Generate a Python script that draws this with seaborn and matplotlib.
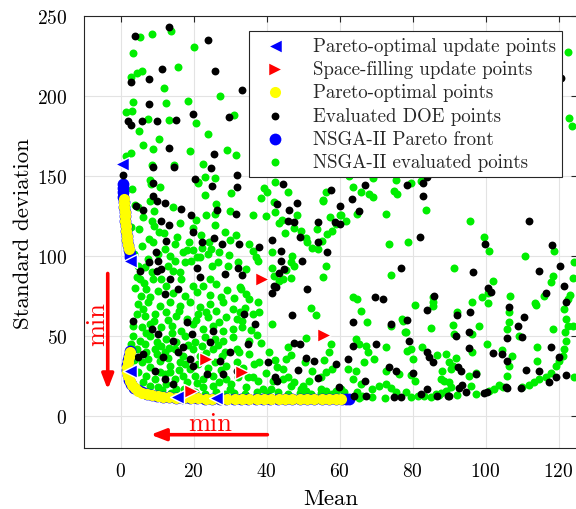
import matplotlib
matplotlib.use("Agg")
import matplotlib.pyplot as plt
import seaborn as sns
import pandas as pd

# ---------------- data ----------------
nsga_eval = [
    (13.7,241),(8.7,239),(5.3,236.9),(20.1,230.6),(3.3,226.8),(15.7,218.1),(6.0,215.6),(4.4,214.6),(2.9,211.9),
    (11.9,205.4),(27.3,200.2),(3.4,196.7),(12.5,195.8),(18.4,197),(1.6,190),(3.1,190.8),(31.2,188.5),(7.4,185.8),
    (13.3,185.4),(20.7,183.3),(5.1,178.1),(23.9,176.2),(10.5,173.3),(6.3,169.8),(8.8,167.3),(19.1,165.8),(29.2,166.2),
    (31.6,163.3),(3.0,164.8),(1.5,162.7),(8.6,156.9),(14.7,156.9),(22.6,157.9),(23.2,149.8),(25.9,148.8),(8.2,147.7),
    (21.2,146.3),
    (122.5,227.9),(122.9,186.4),(123.8,181.6),(63.8,143.1),(65.9,140.4),(68.1,138.9),(69.3,136.9),(74.8,140.8),
    (75.8,138.7),(75.4,147.9),(79.6,146),(82.3,147.3),(83.8,128.8),(60.4,125.8),(64.9,126.4),(72.7,126.4),(62.7,150.4),
    (69.3,149.1),
    (42.4,146.7),(39.4,142.5),(40,140.4),(30.2,139.6),(46,140),(38.5,136.3),(42.1,134.1),(55.6,135.2),(56.4,140.4),
    (26.1,132.7),(29.9,128.5),(10.9,143.5),(8,134.4),(14.4,130.6),(3.1,142.1),(9.2,128.5),(4.9,130.6),(23.4,125.8),
    (25.9,126.4),
    (8.3,145),(4.1,132.3),(6.1,124.4),(8.5,122.3),(9.2,119.1),(10.6,115),(7.9,110.8),(8.8,108.8),(14.9,107.7),
    (17.2,102.5),(18.3,104),(19.9,104.2),(20.8,122.9),(19.9,117.5),(22.4,105),(24.3,108.8),(24.9,104.6),(24,101.4),
    (30,110.4),(31.6,113.3),(28.6,115),(23.1,138.3),(21.1,145.8),(10.3,101.4),(13.5,100.4),(14.9,97.3),(13.1,93.8),
    (14.4,91.1),(16.3,90),(16.7,85.8),(17.6,96.3),(19.2,97.3),(21,99.4),(21.9,99.4),(19.9,81.6),(22.5,81.6),(24.5,85.8),
    (25.2,94.1),(26.8,96.3),(29.5,93.8),(29.2,79),(32.7,80.6),(4.8,94.2),(4.4,86.9),(5.3,85.8),(6.7,93.2),(7.4,98.3),
    (8.5,90),(9,85.8),(11.2,85.8),(12.6,81.6),(7.1,79.6),(5.7,75.4),(8,74.4),
    (42.4,127.9),(36.2,125.8),(39.8,125),(48.3,125.8),(44.2,122.9),(43.5,120.8),(45.1,114.4),(47.6,117.5),(49.4,116),
    (50.8,111.2),(51.2,108.8),(52.4,105),(54,104.6),(55.1,109.8),(53.7,117.1),(56.7,114),(57.9,116),(57.4,124.4),
    (59,120.2),(60.2,125.8),(61.9,121.9),(55.4,134.8),(73.6,107.7),(78.7,108.8),(74.1,88.6),(63.8,74.4),(56.4,94.2),
    (55.4,87.3),(47,100),(46.7,96.3),(47.6,93.8),(45.3,91.7),(46.7,86.3),(44.4,85.8),(41.4,92.5),(42.1,87.9),
    (41.4,102.9),(43.3,84.8),(35.1,107.7),(36.4,103.6),(37.1,99.4),(37.8,97.3),(34.4,92),(33,79.6),(34.4,76.5),
    (35.1,73.4),(37.8,71.7),
    (95.8,122.3),(99.6,111.9),(101,103.1),(110.9,100),(91.4,92.9),(102.1,84.8),(99,74.8),(100.8,77.1),(106.7,75),
    (118.4,87.9),(117.9,84.1),(116.1,75),(118.8,103.3),(123.1,75.8),(124.3,96.2),(124,86.2),(85.5,74.4),(100.8,70.8),
    (113.6,70.8),
    (4.8,70.2),(7.6,71.2),(10.8,69.1),(13.5,71.6),(16.3,69.1),(19.0,71.2),(21.8,68.1),(24.5,70.2),(28.1,71.2),(30.9,67.1),
    (32.7,65.0),(4.4,63.9),(6.7,62.9),(9.4,63.9),(12.6,65.0),(15.3,62.9),(18.1,60.8),(21.3,63.9),(24.0,61.9),(26.3,66.0),
    (29.0,61.9),(31.8,60.8),(3.5,56.6),(5.8,55.6),(8.0,57.7),(11.2,55.6),(14.0,56.6),(16.7,53.5),(19.9,57.7),(22.7,54.6),
    (25.4,56.6),(28.1,53.5),(30.9,54.6),(33.2,55.6),(3.5,50.4),(5.3,47.3),(8.0,50.4),(9.9,46.2),(12.6,48.3),(15.3,46.2),
    (17.6,50.4),(20.4,46.2),(23.1,49.4),(25.9,48.3),(28.1,47.3),(30.9,49.4),(4.4,42.1),(7.1,40.0),(9.4,42.1),(12.2,40.0),
    (14.9,42.1),(17.2,37.9),(19.9,42.1),(25.4,42.1),(28.6,40.0),(31.8,42.1),(5.8,33.7),(8.0,30.6),(10.8,34.8),(13.5,31.6),
    (16.3,33.7),(19.0,29.6),(21.3,32.7),(25.9,33.7),(29.0,31.6),(31.8,33.7),(7.1,25.4),(9.4,23.3),(12.2,26.4),(14.9,23.3),
    (17.2,25.4),(20.4,25.4),(22.7,23.3),(25.4,25.4),(29.0,23.3),(32.2,24.4),(8.0,19.1),(10.3,18.1),(12.6,20.2),(15.3,17.1),
    (22.7,18.1),(25.4,18.7),(30.0,17.1),
    (6.2,66.8),(9.1,59.5),(13.0,60.2),(16.1,65.8),(20.6,59.9),(23.4,65.4),(27.1,58.8),(2.9,45.3),(6.9,51.8),(11.0,44.1),
    (14.1,51.9),(18.4,44.5),(22.3,43.9),(26.8,44.3),(3.6,35.2),(7.4,36.1),(12.9,36.4),(16.0,28.9),(21.9,37.5),(24.1,30.4),
    (27.4,29.1),(4.9,28.0),(10.7,27.6),(13.6,27.9),(18.2,21.4),(21.0,21.1),(26.9,21.6),(6.1,21.3),(11.3,16.2),(17.4,17.0),
    (3.9,80.3),(6.4,83.1),(10.2,78.4),(14.3,76.8),(17.8,75.2),(20.9,77.6),(24.6,76.1),(27.5,74.3),(31.1,73.8),(26.3,82.9),
    (3.8,101.2),(5.9,106.4),(12.1,104.6),(15.6,112.3),(18.9,109.1),(22.1,113.6),(27.0,102.8),(29.8,100.9),(12.0,114.8),
    (2.9,118.6),(5.1,116.9),(16.2,120.9),(25.8,119.4),(32.3,96.4),(34.0,67.4),(35.8,54.0),(35.1,46.9),(38.6,45.7),
    (39.8,27.3),(30.3,20.4),(33.6,30.5),(23.5,39.3),(27.7,37.6),(17.7,32.6),(9.9,38.9),(6.8,45.3),(13.4,43.0),
    (13.8,14.6),(17.1,14.1),(20.3,14.9),(23.2,13.9),(26.1,15.2),(28.7,14.0),(31.2,14.7),(34.1,13.8),(37.3,14.9),
    (40.2,14.3),(43.1,15.3),(45.8,14.0),(49.2,14.7),(52.3,14.1),(55.0,14.8),(57.9,14.2),(61.2,15.4),
    (52.2,67.5),(53.5,63.3),(41.5,57.7),(37.5,50.8),(33.4,59.8),(36.2,63.9),(38,65.4),(50.8,48.7),(46,43.6),(46.7,38.3),
    (45.3,35.8),(40.7,40.2),(42.4,35.4),(44.4,29.6),(43,30.6),(52.4,28.5),(50.6,33.7),(55.8,35.4),(57.2,40.2),(57.6,45.4),
    (56.3,27.5),(57.9,29.6),(54.9,24.4),(51.7,22.2),(49.9,19.1),(47.6,21.7),(44.4,23.3),(45.8,24.4),(46.7,18.7),(49.4,17.1),
    (50.8,16),(54.9,17.1),(56.3,16),(59,16),(60.4,17.1),(62.2,29.6),(64.5,28.5),(63.6,23.3),(65.9,20.2),(64.9,15),
    (66.3,13),(69,17.1),(70.9,18.7),(72.7,20.2),(74.1,17.6),(75.4,15),(64.5,48.3),(65.4,45.2),(67.2,44.1),(66.8,34.1),
    (67.7,40),(69.5,35.8),(72.7,43.1),(74.1,56.6),(72.7,28.5),(76.4,26.4),(78.6,41),(66,66),(67.5,59.2),(77.5,59.8),
    (78.3,52.5),(64.7,73.3),(32.5,40),(35.3,38.9),(36.6,32.7),(38,33.7),(34.8,24.4),(36.2,24.4),(37.6,22.2),(39,17.1),
    (41.3,17.1),(41.7,22.2),(34.3,18.1),
    (80.7,69.6),(85.5,71.6),(85.5,68.7),(77.1,60.8),(78,52.5),(79.6,42.1),(80.2,35.8),(82.7,43.5),(85,54.9),(86.6,38.3),
    (79.6,25.8),(80.7,22.2),(78.2,15.4),(79.6,11.8),(81.4,12.5),(83.2,12.9),(85,11.8),(86.4,14),(87.8,14.4),(89.1,16.1),
    (90.5,18.1),(92.3,13.3),(96,18.7),(97.4,13.9),(101,16.1),(102.4,17.1),(103.8,19.6),(104.7,18.1),(110.1,18.1),(112,19.6),
    (113.3,21.7),(114.7,23.3),(116.5,24.4),(117.9,27.1),(119.3,31.6),(120.2,34.8),(121.1,37.9),(121.6,42.1),(122,47.3),
    (121.8,52.5),(122.5,56.6),(122,60.8),(121.6,67.1),(122.5,73.3),(114.2,43.1),(114.2,34.8),(118.4,54.6),(124.3,24.4),
    (123.9,56.6),(89.1,38.9),(90.1,33.7),(91,31.6),(91.9,36.2),(90.5,29.6),(87.8,23.3),(88.7,22.2),(89.9,21.2),(88.2,28.1),
    (95.5,25),(97.4,27.1),(91,57.1),(91.4,51.4),(92.3,64.9),(96.4,51.4),(96.4,40),(98.3,56.6),(100.4,45.2),(104.6,41.6),
    (107.2,37.9),(106.5,31.6),(106,25.4),(106.5,64.9),(106.5,58.7),(106,54.6),(109.2,50.4),(113.7,69.6),(96.2,71.2),
    (65.4,11.5),(68.8,11.8),(72.5,11.4),(87.3,13.3),
]

doe_eval = [
    (13.3,243.5),(3.9,237.7),(24.1,235.4),(11.3,216.9),(25.9,216),(7.9,210.6),(2.8,209),(33.4,204),(7.8,195.4),
    (19.9,189),(29.7,186.9),(2.1,184.6),(3.0,182),(6.0,184.8),(10.1,184.4),(15.1,185),(13.3,167.5),(25.7,164),(9.0,156),
    (14.6,155.6),(24.9,155),(32,150.6),(0.7,150.8),(20.3,148.3),
    (120.8,211.4),(57.6,141.4),(67,144.6),(78.5,144.8),(83,145.6),(84.1,149.8),(83,137.5),(63.4,135.8),(60.2,131.3),
    (65.4,128.1),
    (44.6,145.2),(31.9,143.1),(43,132.7),(48.3,133.1),(46.2,129),(26.4,129.1),(9,145.6),(9,137.9),(10.1,134.8),
    (12.2,133.1),(16.7,129.6),(4.2,131.3),(6.3,128.8),(19.4,125.8),
    (11,122.3),(13.3,119.8),(12.6,109.8),(19.9,115),(22.2,108.8),(25.7,111.7),(27.7,107.5),(31.6,126.4),(25.2,143.8),
    (9.7,102.5),(10.3,97.3),(11.2,92),(13.5,85.8),(15.8,79.6),(21,92.5),(21.9,86.9),(28.6,88.9),(32.2,92.5),(5.3,91.1),
    (7.9,96.3),(9.9,91.1),(12.2,76.4),
    (46,122.3),(47.6,121.7),(49.1,111.9),(54.2,108.8),(56.5,102.9),(54.2,121.3),(58.8,121.7),(60.2,120.2),(76.8,92.5),
    (69.8,74.4),(51.2,79.6),(49.7,97.3),(43.9,97.3),(44.8,92),(43.3,89.6),(41.5,110.4),(44.1,103.5),(42.1,81.6),
    (42.7,80.6),(41.5,77.1),(38,105.6),(32.5,107.7),(33.2,88.3),
    (82,112.3),(111.8,121.9),(99.9,107.7),(118.2,107.3),(96.6,90.4),(120.5,94.1),(114.7,91),(121.6,81.2),(85.9,75.4),
    (100.8,80.2),(101.5,77.9),(116.5,77.1),(122,71.2),
    (3.5,59.8),(8.5,54.6),(10.3,51.4),(14.4,47.3),(18.1,58.7),(19.5,51.4),(17.2,43.1),(24.5,46.2),(30,40),(27.2,34.8),
    (4.8,36.8),(11.7,36.8),(19,35.8),(9.4,28.5),(12.2,23.3),(14.4,20.2),(19.9,31.6),(23.6,26.4),(31.8,28.5),(28.1,26.4),
    (6.2,38.9),(15.8,40),(25.4,53.5),
    (47.1,63.3),(36.9,57.7),(33.9,63.9),(47.6,45.6),(49.2,45.3),(40.3,34.1),(48.5,29),(50.8,36.2),(53.1,34.8),(59,32.7),
    (54,23.8),(42.4,24.4),(43,22.2),(59.9,18.1),(67,22.2),(62.2,35.8),(63.6,44.1),(70,45.2),(73.6,30.6),(75.4,28.5),
    (76.8,11.8),(63.6,58.7),(74.1,57.7),(71.9,73.3),(34.8,45.2),
    (84.1,66.6),(78.6,60.4),(79.1,47.3),(84.1,40),(84.6,36.8),(85.7,34.1),(80.2,27.1),(84.1,17.1),(82.3,14),(86.8,12.5),
    (90.1,12.5),(92.8,17.6),(94.6,15.4),(93.5,19.8),(99.6,14.6),(100.5,14.9),(105.6,18.1),(109.7,17.5),(111.1,29.1),
    (114.7,28.5),(117.5,21.2),(119.3,24.4),(122,25.8),(117.9,43.1),(120.2,36.8),(92.6,30.6),(93.3,28.1),(97.3,26.5),
    (92.3,63.3),(91.9,50.4),(95.5,52.9),(95.7,64.9),(95.5,42.5),(102.1,39.3),(104.6,38.9),(106,34.8),(106.5,68.1),
    (109,56.2),(110.6,61.9),(105.9,48.7),(110.1,49.4),
    (74.8,11.9),(89.6,12.5),(67.2,12.9),(64,12.9),(106,17.5),
]

nsga_front = [
    (0.7,145.5),(0.7,143),(0.8,140),(0.8,137),(0.9,134),(1.0,131),(1.1,128),(1.2,125),(1.3,122),(1.4,119),(1.5,116),
    (1.7,113),(1.9,110),(2.1,107),(2.3,104),(2.5,101.5),(2.7,99.5),
    (2.6,41),(2.3,38),(2.0,35),(1.9,32),(1.9,29),(2.0,26),(2.3,23),(2.9,20),(3.7,18),(4.7,16.2),(5.9,14.9),(7.2,13.9),
    (8.6,13.1),(10.1,12.5),(11.6,12.1),(13.2,11.8),(15.1,11.5),(17.0,11.4),(19.1,11.3),(21.0,11.2),(23.2,11.1),
    (25.1,11.1),(27.3,11.0),(29.0,11.0),(31.2,11.0),(33.1,11.0),(35.0,11.0),(37.2,11.0),(39.1,11.0),(41.0,11.0),
    (43.2,11.0),(45.1,11.0),(47.0,11.0),(49.2,11.0),(51.1,11.0),(53.0,11.0),(55.2,11.0),(57.1,11.0),(59.0,11.0),
    (60.6,11.0),(61.7,11.0),(62.7,11.0),
]

pareto_opt = [
    (0.9,136),(0.9,133.5),(1.0,131),(1.1,128),(1.2,125),(1.3,122),(1.4,119),(1.5,116),(1.7,113),(1.9,110),(2.1,107),
    (2.3,104.5),
    (2.5,40),(2.2,37),(2.0,34),(1.9,31),(1.9,28),(2.1,25),(2.5,22),(3.1,19.5),(3.9,17.6),(4.9,16),(6.0,14.8),(7.3,13.8),
    (8.7,13.1),(10.2,12.5),(11.7,12.1),(13.3,11.8),(15.2,11.5),(17.1,11.4),(19.2,11.3),(21.1,11.2),(23.3,11.1),
    (25.2,11.1),(27.4,11.0),(29.1,11.0),(31.3,11.0),(33.2,11.0),(35.1,11.0),(37.3,11.0),(39.2,11.0),(41.1,11.0),
    (43.3,11.0),(45.2,11.0),(47.1,11.0),(49.3,11.0),(51.2,11.0),(53.1,11.0),(55.3,11.0),(57.2,11.0),(59.1,11.0),
    (60.5,11.0),
]

space_fill_upd = [(38.8,86.0),(55.7,51.0),(23.5,36.0),(33.3,28.0),(19.4,16.0)]
pareto_upd = [(0.5,158.0),(2.7,97.0),(2.7,28.5),(15.6,12.0),(26.3,11.3)]

labels = ["Pareto-optimal update points", "Space-filling update points", "Pareto-optimal points",
          "Evaluated DOE points", "NSGA-II Pareto front", "NSGA-II evaluated points"]


def frame(pts):
    return pd.DataFrame(pts, columns=["Mean", "Std"])


# ---------------- figure ----------------
sns.set_style("white")
plt.rcParams["font.family"] = ["cmr10", "DejaVu Serif"]
plt.rcParams["axes.formatter.use_mathtext"] = True
plt.rcParams["mathtext.fontset"] = "cm"

fig = plt.figure(figsize=(5.76, 5.10), dpi=100)
ax = fig.add_axes([84 / 576, 60.7 / 510, 492.75 / 576, 432 / 510])

sns.scatterplot(data=frame(nsga_eval), x="Mean", y="Std", ax=ax, color="#00ee00", s=33,
                linewidth=0, label=labels[5], zorder=2)
sns.scatterplot(data=frame(nsga_front), x="Mean", y="Std", ax=ax, color="#0000ff", s=72,
                linewidth=0, label=labels[4], zorder=3)
sns.scatterplot(data=frame(doe_eval), x="Mean", y="Std", ax=ax, color="black", s=32,
                linewidth=0, label=labels[3], zorder=4)
sns.scatterplot(data=frame(pareto_opt), x="Mean", y="Std", ax=ax, color="#ffff00", s=64,
                linewidth=0, label=labels[2], zorder=5)
sns.scatterplot(data=frame(space_fill_upd), x="Mean", y="Std", ax=ax, color="#ff0000", s=100, marker=">",
                edgecolor="white", linewidth=1.0, label=labels[1], zorder=6)
sns.scatterplot(data=frame(pareto_upd), x="Mean", y="Std", ax=ax, color="#0000ff", s=100, marker="<",
                edgecolor="white", linewidth=1.0, label=labels[0], zorder=7)

ax.set_xlim(-10, 125)
ax.set_ylim(-20, 250)
ax.set_xticks([0, 20, 40, 60, 80, 100, 120])
ax.set_yticks([0, 50, 100, 150, 200, 250])

dark = "#262626"
ax.grid(True, color="#e3e3e3", linewidth=0.8)
ax.set_axisbelow(True)
for sp in ax.spines.values():
    sp.set_color(dark)
    sp.set_linewidth(0.8)
ax.tick_params(direction="in", length=4.5, width=0.8, colors=dark, labelsize=14,
               top=True, right=True)
ax.tick_params(axis="y", pad=12)
ax.tick_params(axis="x", pad=10)
for lab in ax.get_xticklabels() + ax.get_yticklabels():
    lab.set_color("black")

ax.set_xlabel("Mean", fontsize=16.5, color="black", labelpad=6)
ax.set_ylabel("Standard deviation", fontsize=16.5, color="black", labelpad=3)

# legend in the original order
handles, labs = ax.get_legend_handles_labels()
order = [labs.index(l) for l in labels]
leg = ax.legend([handles[i] for i in order], [labs[i] for i in order],
                loc="upper right", bbox_to_anchor=(0.970, 0.966), fontsize=13.6,
                frameon=True, fancybox=False, framealpha=1, edgecolor=dark,
                borderpad=0.3, labelspacing=0.28, handletextpad=1.0, handlelength=2.1,
                borderaxespad=0)
leg.get_frame().set_linewidth(0.8)

# red "min" arrows
ax.annotate("", xy=(-3.5, 15), xytext=(-3.5, 91),
            arrowprops=dict(arrowstyle="-|>,head_length=0.9,head_width=0.35", color="#ff0000", lw=2.6),
            annotation_clip=False, zorder=8)
ax.text(-6.3, 58, "min", color="#ff0000", fontsize=19, rotation=90, ha="center", va="center", zorder=8)
ax.annotate("", xy=(7.5, -11.5), xytext=(41, -11.5),
            arrowprops=dict(arrowstyle="-|>,head_length=0.9,head_width=0.35", color="#ff0000", lw=2.6),
            annotation_clip=False, zorder=8)
ax.text(24.5, -4.0, "min", color="#ff0000", fontsize=19, ha="center", va="center", zorder=8)

fig.savefig("out.png", dpi=100)
